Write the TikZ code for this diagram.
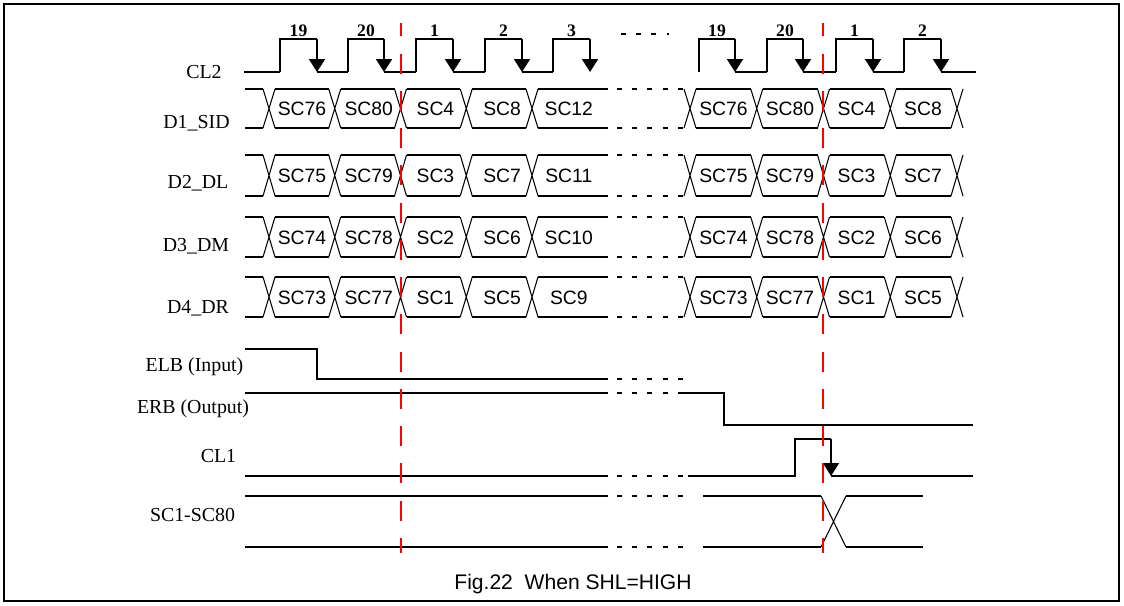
\documentclass[tikz,border=0pt]{standalone}
\usepackage{fontspec}
\setmainfont{Liberation Serif}
\setsansfont{Liberation Sans}
\usetikzlibrary{arrows.meta}

\begin{document}
\begin{tikzpicture}[x=0.02cm,y=-0.02cm,
  sig/.style={line width=1.1pt},
  xl/.style={line width=0.6pt},
  ell/.style={line width=1.1pt,dash pattern=on 2.8pt off 5.85pt},
  fall/.style={line width=1.1pt,-{Triangle[length=2.6mm,width=3.2mm]}},
  cut/.style={red,line width=1.1pt,dash pattern=on 11.3pt off 9.9pt,dash phase=3.7pt},
  lbl/.style={anchor=base,inner sep=0pt,font=\fontsize{11.3}{13}\selectfont},
  sc/.style={anchor=base,inner sep=0pt,font=\sffamily\fontsize{11}{13}\selectfont},
  num/.style={anchor=base,inner sep=0pt,font=\bfseries\fontsize{10}{12}\selectfont}]
\useasboundingbox (0,0) rectangle (1124,605);
\draw[line width=1.1pt] (4,4) rectangle (1119,601);
% signal names
\node[lbl] (lCL2) at (204,78) {CL2};
\node[lbl] (lD1) at (196.5,128) {D1\_SID};
\node[lbl] (lD2) at (198,188) {D2\_DL};
\node[lbl] (lD3) at (196,251) {D3\_DM};
\node[lbl] (lD4) at (198,313) {D4\_DR};
\node[lbl] (lELB) at (194.5,371) {ELB (Input)};
\node[lbl] (lERB) at (193,413) {ERB (Output)};
\node[lbl] (lCL1) at (218.5,462) {CL1};
\node[lbl] (lSC) at (192.5,521) {SC1-SC80};
% CL2
\draw[sig] (244,72) -- (280,72) (317,72) -- (348,72) (384,72) -- (416,72)
  (453,72) -- (485,72) (522,72) -- (553,72);
\foreach \r/\f/\n in {280/317/19,348/384/20,416/453/1,485/522/2,553/590/3}{
  \draw[sig] (\r,72) |- (\f,39);
  \draw[fall] (\f,39) -- (\f,72);
  \node[num] (ckA\n) at ({(\r+\f)/2},36) {\n};
}
\draw[ell] (621,34) -- (669,34);
\draw[sig] (735,72) -- (767,72) (803,72) -- (836,72) (873,72) -- (904,72) (941,72) -- (976,72);
\foreach \r/\f/\n in {699/735/19,767/803/20,836/873/1,904/941/2}{
  \draw[sig] (\r,72) |- (\f,39);
  \draw[fall] (\f,39) -- (\f,72);
  \node[num] (ckB\n) at ({(\r+\f)/2},36) {\n};
}
% data buses
\foreach \nm/\T/\B in {D1/89/128,D2/155/196,D3/217/257,D4/277/317}{
  \draw[sig] (245,\T) -- (263,\T) (245,\B) -- (263,\B);
  \foreach \k in {0,...,4}{
    \pgfmathsetmacro\ta{269+65.75*\k}
    \pgfmathsetmacro\tb{690+66.75*\k}
    \draw[xl] (\ta-6,\T) -- (\ta+6,\B) (\ta-6,\B) -- (\ta+6,\T)
      (\tb-6,\T) -- (\tb+6,\B) (\tb-6,\B) -- (\tb+6,\T);
  }
  \foreach \k in {0,...,3}{
    \pgfmathsetmacro\ta{269+65.75*\k}
    \pgfmathsetmacro\tb{690+66.75*\k}
    \draw[sig] (\ta+6,\T) -- (\ta+59.75,\T) (\ta+6,\B) -- (\ta+59.75,\B)
      (\tb+6,\T) -- (\tb+60.75,\T) (\tb+6,\B) -- (\tb+60.75,\B);
  }
  \draw[sig] (538,\T) -- (608,\T) (538,\B) -- (608,\B);
  \draw[ell] (617,\T) -- (683,\T) (617,\B) -- (683,\B);
}
\foreach \s [count=\i] in {SC76,SC80,SC4,SC8,SC12} \node[sc] (D1a\i) at ({302+66.7*(\i-1)},115.5) {\s};
\foreach \s [count=\i] in {SC76,SC80,SC4,SC8} \node[sc] (D1b\i) at ({723.5+66.5*(\i-1)},115.5) {\s};
\foreach \s [count=\i] in {SC75,SC79,SC3,SC7,SC11} \node[sc] (D2a\i) at ({302+66.7*(\i-1)},182.5) {\s};
\foreach \s [count=\i] in {SC75,SC79,SC3,SC7} \node[sc] (D2b\i) at ({723.5+66.5*(\i-1)},182.5) {\s};
\foreach \s [count=\i] in {SC74,SC78,SC2,SC6,SC10} \node[sc] (D3a\i) at ({302+66.7*(\i-1)},244) {\s};
\foreach \s [count=\i] in {SC74,SC78,SC2,SC6} \node[sc] (D3b\i) at ({723.5+66.5*(\i-1)},244) {\s};
\foreach \s [count=\i] in {SC73,SC77,SC1,SC5,SC9} \node[sc] (D4a\i) at ({302+66.7*(\i-1)},304) {\s};
\foreach \s [count=\i] in {SC73,SC77,SC1,SC5} \node[sc] (D4b\i) at ({723.5+66.5*(\i-1)},304) {\s};
% ELB, ERB
\draw[sig] (245,349) -| (317,379) -- (608,379);
\draw[ell] (617,379) -- (683,379);
\draw[sig] (245,393) -- (608,393);
\draw[ell] (617,393) -- (683,393);
\draw[sig] (683,393) -| (724,425) -- (973,425);
% CL1
\draw[sig] (245,476) -- (608,476);
\draw[ell] (617,476) -- (683,476);
\draw[sig] (688,476) -| (795,439) -- (831,439);
\draw[fall] (831,439) -- (831,476);
\draw[sig] (831,476) -- (973,476);
% SC1-SC80
\draw[sig] (245,496) -- (608,496) (245,547) -- (608,547);
\draw[ell] (617,496) -- (683,496) (617,547) -- (683,547);
\draw[sig] (703,496) -- (821,496) (703,547) -- (821,547)
  (846,496) -- (923,496) (846,547) -- (923,547);
\draw[xl] (821,496) -- (846,547) (821,547) -- (846,496);
% latch lines
\coordinate (cutA1) at (401,23);
\coordinate (cutA2) at (401,553);
\coordinate (cutB1) at (823,23);
\coordinate (cutB2) at (823,553);
\draw[cut] (cutA1) -- (cutA2);
\draw[cut] (cutB1) -- (cutB2);
\node[anchor=base,inner sep=0pt,font=\sffamily\fontsize{12}{14}\selectfont] (cap) at (573,589) {Fig.22\ \ When SHL=HIGH};
\end{tikzpicture}
\end{document}
